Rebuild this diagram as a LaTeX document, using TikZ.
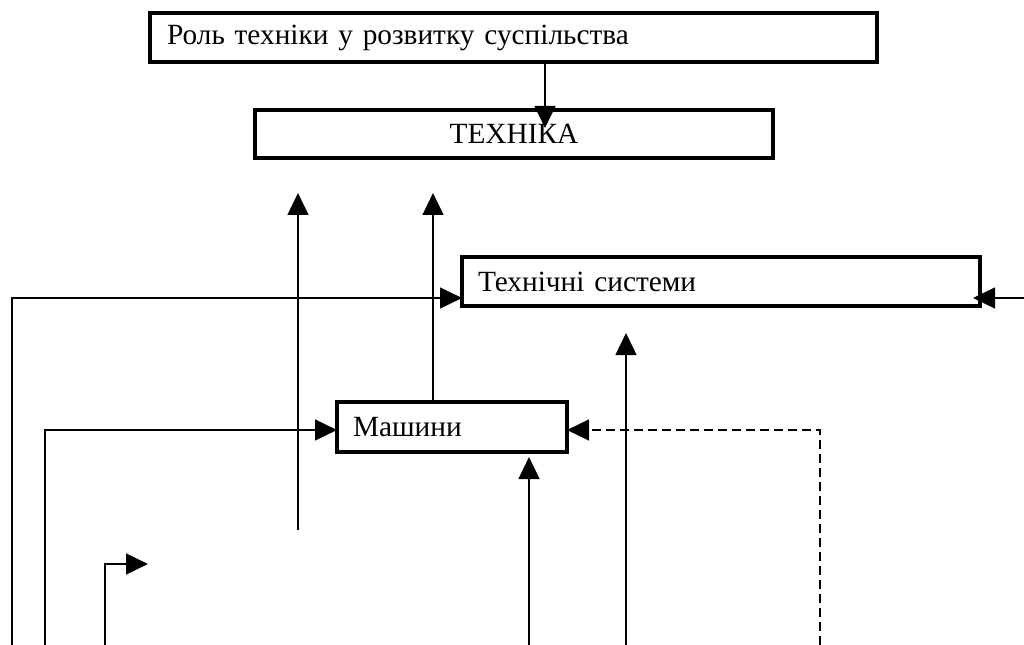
\documentclass[tikz,border=0pt]{standalone}
\usepackage{fontspec}
\setmainfont{Liberation Serif}
\usetikzlibrary{arrows.meta}
\newcommand{\diagfont}{\fontsize{22}{25}\selectfont\spaceskip=0.19em plus 0.05em\relax}
\begin{document}
\begin{tikzpicture}[x=0.75pt,y=-0.75pt,
  box/.style={draw=black,line width=2.8pt,rectangle,inner ysep=0pt,font=\diagfont},
  leftbox/.style={box,align=left},
  conn/.style={line width=2pt,-{Triangle[length=16.5pt,width=15.5pt]}},
  dconn/.style={conn,dash pattern=on 7pt off 3.5pt}]
\useasboundingbox[fill=white] (0,0) rectangle (1024,645);
% boxes
\node[leftbox,inner xsep=12.75pt,text width=519.75pt,minimum height=36.75pt] (role) at (513.5,37.5) {Роль техніки у розвитку суспільства};
\node[box,inner xsep=0pt,minimum width=388.5pt,minimum height=36pt] (tech) at (514,134) {ТЕХНІКА};
\node[leftbox,inner xsep=12pt,text width=364.5pt,minimum height=36.75pt] (ts) at (721,281.5) {Технічні системи};
\node[leftbox,inner xsep=12pt,text width=148.5pt,minimum height=37.5pt] (mash) at (452,427) {Машини};
% free ends
\coordinate (t1) at (545,128);
\coordinate (a1) at (298,530);
\coordinate (a2) at (298,193);
\coordinate (b2) at (433,193);
\coordinate (c1) at (12,645);
\coordinate (c2) at (462,298);
\coordinate (d1) at (1024,298);
\coordinate (d2) at (973,298);
\coordinate (e1) at (626,645);
\coordinate (e2) at (626,333);
\coordinate (f1) at (45,645);
\coordinate (f2) at (337,430);
\coordinate (g1) at (820,645);
\coordinate (g2) at (567,430);
\coordinate (h1) at (529,645);
\coordinate (h2) at (529,457);
\coordinate (k1) at (105,645);
\coordinate (k2) at (148,564);
% connectors
\draw[conn] (role.south -| t1) -- (t1);
\draw[conn] (a1) -- (a2);
\draw[conn] (mash.north -| b2) -- (b2);
\draw[conn] (c1) |- (c2);
\draw[conn] (d1) -- (d2);
\draw[conn] (e1) -- (e2);
\draw[conn] (f1) |- (f2);
\draw[dconn] (g1) |- (g2);
\draw[conn] (h1) -- (h2);
\draw[conn] (k1) |- (k2);
\end{tikzpicture}
\end{document}
